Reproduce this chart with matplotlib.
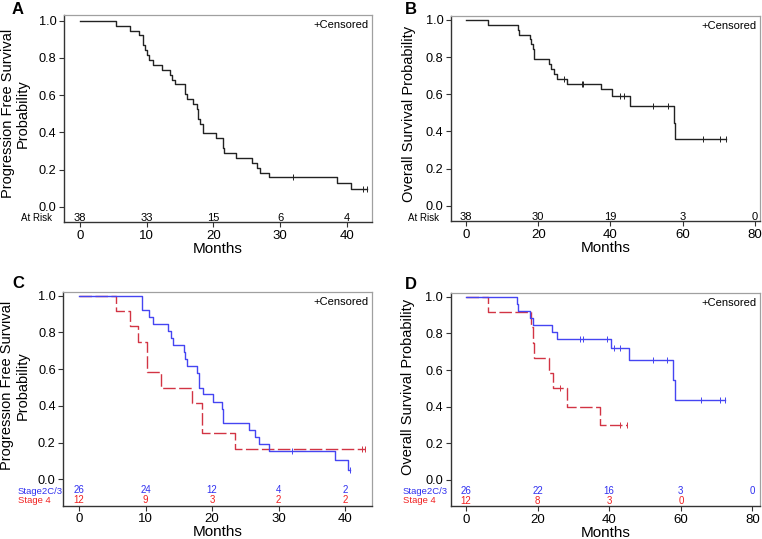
import numpy as np
import matplotlib
matplotlib.use("Agg")
import matplotlib.pyplot as plt

plt.rcParams['font.family'] = ['Liberation Sans', 'DejaVu Sans']

# ---------------- Data ----------------
# Panel A: progression free survival, all patients
a_times = [0, 5.4, 7.5, 8.8, 9.4, 9.8, 10.1, 10.4, 10.9, 12.3, 13.5, 13.8, 14.2, 15.75, 16.0,
           17.0, 17.5, 17.75, 18.0, 18.5, 20.35, 21.5, 21.6, 23.35, 25.75, 26.6, 27.0, 28.35,
           38.6, 40.65]
a_surv = [1.0, 0.974, 0.947, 0.921, 0.868, 0.842, 0.816, 0.789, 0.763, 0.737, 0.711, 0.684, 0.658,
          0.605, 0.579, 0.553, 0.526, 0.474, 0.447, 0.395, 0.368, 0.316, 0.289, 0.263, 0.237,
          0.211, 0.184, 0.158, 0.126, 0.095]
a_end = 43.0
a_censor = [32.0, 42.5, 43.0]
a_risk_t = [0, 10, 20, 30, 40]
a_risk_n = [38, 33, 15, 6, 4]

# Panel B: overall survival, all patients
b_times = [0, 6.2, 14.3, 14.6, 17.7, 18.0, 18.5, 18.9, 23.1, 23.6, 24.4, 25.3, 28.05, 37.3,
           40.5, 45.4, 57.6, 58.0]
b_surv = [1.0, 0.974, 0.947, 0.921, 0.895, 0.868, 0.842, 0.789, 0.763, 0.737, 0.711, 0.684,
          0.655, 0.627, 0.592, 0.537, 0.447, 0.359]
b_end = 72.1
b_censor = [27.0, 32.0, 32.5, 42.6, 43.7, 51.8, 56.0, 65.5, 70.3, 72.1]
b_risk_t = [0, 20, 40, 60, 80]
b_risk_n = [38, 30, 19, 3, 0]

# Panel C: PFS by stage
c_blue_times = [0, 9.4, 10.5, 11.1, 13.4, 13.9, 14.2, 15.8, 15.9, 16.2, 17.8, 18.0, 18.7, 20.2,
                21.5, 21.6, 21.7, 25.6, 26.5, 27.0, 28.5, 38.5, 40.5]
c_blue_surv = [1.0, 0.923, 0.885, 0.846, 0.808, 0.769, 0.731, 0.692, 0.654, 0.615, 0.577, 0.50,
               0.462, 0.423, 0.385, 0.346, 0.308, 0.269, 0.231, 0.192, 0.154, 0.103, 0.051]
c_blue_end = 40.8
c_blue_censor = [32.0, 40.8]
c_red_times = [0, 5.6, 7.7, 8.8, 10.2, 12.4, 17.0, 18.5, 23.4]
c_red_surv = [1.0, 0.917, 0.833, 0.75, 0.583, 0.50, 0.417, 0.25, 0.167]
c_red_end = 43.0
c_red_censor = [42.5, 43.0]
c_risk_t = [0, 10, 20, 30, 40]
c_risk_blue = [26, 24, 12, 4, 2]
c_risk_red = [12, 9, 3, 2, 2]

# Panel D: OS by stage
d_blue_times = [0, 14.3, 14.5, 17.9, 18.8, 23.9, 25.5, 40.4, 45.6, 57.9, 58.4]
d_blue_surv = [1.0, 0.962, 0.923, 0.885, 0.846, 0.808, 0.769, 0.72, 0.655, 0.546, 0.437]
d_blue_end = 72.3
d_blue_censor = [31.8, 32.8, 39.3, 41.2, 43.0, 52.3, 56.2, 65.5, 71.0, 72.3]
d_red_times = [0, 6.2, 18.1, 18.6, 19.0, 23.2, 24.4, 28.1, 37.4]
d_red_surv = [1.0, 0.917, 0.833, 0.75, 0.667, 0.583, 0.50, 0.40, 0.30]
d_red_end = 45.0
d_red_censor = [26.3, 43.0, 44.9]
d_risk_t = [0, 20, 40, 60, 80]
d_risk_blue = [26, 22, 16, 3, 0]
d_risk_red = [12, 8, 3, 0]

BLUE = '#4545f2'
RED = '#d23444'
BLUE_TXT = '#3030f0'
RED_TXT = '#f02020'
DARK = '#222222'

W, H = 762, 539
fig = plt.figure(figsize=(W / 100, H / 100), dpi=100)


def make_ax(l, r, t, b, xlim, ylim, xticks):
    ax = fig.add_axes([l / W, 1 - b / H, (r - l) / W, (b - t) / H])
    ax.set_xlim(*xlim)
    ax.set_ylim(*ylim)
    ax.set_xticks(xticks)
    ax.set_xticklabels([str(v) for v in xticks], fontsize=9.5)
    yt = [0.0, 0.2, 0.4, 0.6, 0.8, 1.0]
    ax.set_yticks(yt)
    ax.set_yticklabels([f"{v:.1f}" for v in yt], fontsize=9.2)
    ax.tick_params(axis='x', direction='out', length=3.5, width=0.8, pad=2, color='#333333')
    ax.tick_params(axis='y', direction='out', length=3.5, width=0.8, pad=2, color='#333333')
    for s in ['left', 'bottom']:
        ax.spines[s].set_color('#333333')
        ax.spines[s].set_linewidth(1.0)
    for s in ['top', 'right']:
        ax.spines[s].set_color('#a0a0a0')
        ax.spines[s].set_linewidth(0.9)
    ax.set_xlabel('Months', fontsize=11, labelpad=0)
    ax.text(0.99, 0.975, '+Censored', transform=ax.transAxes, ha='right', va='top', fontsize=8)
    return ax


def km(ax, times, surv, end, censor, color, dashed=False):
    t = list(times) + [end]
    s = list(surv) + [surv[-1]]
    ls = (0, (9, 2.5)) if dashed else '-'
    ax.step(t, s, where='post', color=color, lw=1.0, linestyle=ls)
    idx = np.searchsorted(np.array(times), np.array(censor), side='right') - 1
    cs = np.array(surv)[idx]
    ax.plot(censor, cs, linestyle='none', marker='|', markersize=4.5, color=color, mew=0.7)


# ---- Panel A ----
axA = make_ax(64, 372, 15, 222, (-2.4, 43.8), (-0.082, 1.031), [0, 10, 20, 30, 40])
km(axA, a_times, a_surv, a_end, a_censor, DARK)
for t, n in zip(a_risk_t, a_risk_n):
    axA.text(t, -0.058, str(n), ha='center', va='center', fontsize=8)
fig.text(21 / W, 1 - 218 / H, 'At Risk', ha='left', va='center', fontsize=7)
axA.text(-0.158, 0.525, 'Progression Free Survival\nProbability', transform=axA.transAxes,
         rotation=90, ha='center', va='center', fontsize=10.5, linespacing=1.15)

# ---- Panel B ----
axB = make_ax(451, 760, 15.7, 221, (-4.15, 81.4), (-0.082, 1.023), [0, 20, 40, 60, 80])
km(axB, b_times, b_surv, b_end, b_censor, DARK)
for t, n in zip(b_risk_t, b_risk_n):
    axB.text(t, -0.058, str(n), ha='center', va='center', fontsize=8)
fig.text(408 / W, 1 - 218 / H, 'At Risk', ha='left', va='center', fontsize=7)
axB.text(-0.136, 0.52, 'Overall Survival Probability', transform=axB.transAxes,
         rotation=90, ha='center', va='center', fontsize=10.5)

# ---- Panel C ----
axC = make_ax(63.3, 371.7, 291.7, 505.7, (-2.36, 44.0), (-0.144, 1.022), [0, 10, 20, 30, 40])
km(axC, c_red_times, c_red_surv, c_red_end, c_red_censor, RED, dashed=True)
km(axC, c_blue_times, c_blue_surv, c_blue_end, c_blue_censor, BLUE)
for t, n in zip(c_risk_t, c_risk_blue):
    axC.text(t, -0.06, str(n), ha='center', va='center', fontsize=7, color=BLUE_TXT)
for t, n in zip(c_risk_t, c_risk_red):
    axC.text(t, -0.113, str(n), ha='center', va='center', fontsize=7, color=RED_TXT)
fig.text(18 / W, 1 - 491 / H, 'Stage2C/3', ha='left', va='center', fontsize=6.8, color=BLUE_TXT)
fig.text(18 / W, 1 - 500.5 / H, 'Stage 4', ha='left', va='center', fontsize=6.8, color=RED_TXT)
axC.text(-0.158, 0.56, 'Progression Free Survival\nProbability', transform=axC.transAxes,
         rotation=90, ha='center', va='center', fontsize=10.5, linespacing=1.15)

# ---- Panel D ----
axD = make_ax(450.7, 760, 292.7, 506, (-4.27, 82.1), (-0.142, 1.022), [0, 20, 40, 60, 80])
km(axD, d_red_times, d_red_surv, d_red_end, d_red_censor, RED, dashed=True)
km(axD, d_blue_times, d_blue_surv, d_blue_end, d_blue_censor, BLUE)
for t, n in zip(d_risk_t, d_risk_blue):
    axD.text(t, -0.06, str(n), ha='center', va='center', fontsize=7, color=BLUE_TXT)
for t, n in zip(d_risk_t[:len(d_risk_red)], d_risk_red):
    axD.text(t, -0.113, str(n), ha='center', va='center', fontsize=7, color=RED_TXT)
fig.text(403 / W, 1 - 491 / H, 'Stage2C/3', ha='left', va='center', fontsize=6.8, color=BLUE_TXT)
fig.text(403 / W, 1 - 500.5 / H, 'Stage 4', ha='left', va='center', fontsize=6.8, color=RED_TXT)
axD.text(-0.137, 0.56, 'Overall Survival Probability', transform=axD.transAxes,
         rotation=90, ha='center', va='center', fontsize=10.5)

# Panel letters
for lbl, x, y in [('A', 12, 2), ('B', 405, 2), ('C', 12, 276), ('D', 405, 277)]:
    fig.text(x / W, 1 - y / H, lbl, ha='left', va='top', fontsize=12, fontweight='bold')

fig.savefig('out.png', dpi=100)
